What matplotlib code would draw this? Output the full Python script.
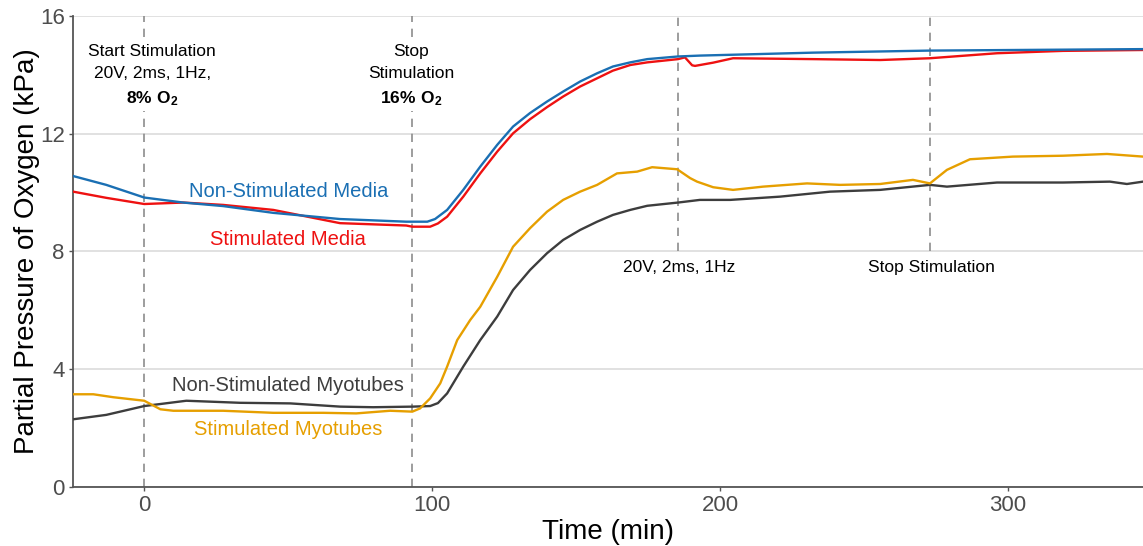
import numpy as np
import matplotlib
matplotlib.use("Agg")
import matplotlib.pyplot as plt

plt.rcParams['font.family'] = ['Liberation Sans', 'DejaVu Sans']
plt.rcParams['mathtext.fontset'] = 'custom'
plt.rcParams['mathtext.rm'] = 'Liberation Sans'
plt.rcParams['mathtext.bf'] = 'Liberation Sans:bold'

# Non-stimulated media
t_media_ns = [-24.7, -13.2, 0, 13.5, 27.4, 44.8, 68, 91, 98.3, 101, 105.2, 110.8, 116.7,
              122.6, 128.1, 134, 139.9, 145.5, 151.4, 157.3, 162.8, 168.8, 174.7, 185.4,
              193, 232.3, 272.9, 346.9]
p_media_ns = [10.56, 10.26, 9.83, 9.66, 9.54, 9.31, 9.10, 9.01, 9.01, 9.10, 9.41, 10.09, 10.88,
              11.62, 12.24, 12.70, 13.09, 13.43, 13.77, 14.05, 14.28, 14.42, 14.53, 14.62,
              14.65, 14.75, 14.82, 14.87]

# Stimulated media
t_media_s = [-24.7, -13.2, 0, 13.5, 27.4, 44.8, 68, 91, 93.1, 99.3, 102, 105.2, 110.8, 116.7,
             122.6, 128.1, 134, 139.9, 145.5, 151.4, 157.3, 162.8, 168.8, 174.7, 185.4, 187.8,
             190.3, 191.3, 197.6, 204.5, 232.3, 255.6, 272.9, 296.2, 319.1, 346.9]
p_media_s = [10.03, 9.82, 9.61, 9.66, 9.58, 9.41, 8.96, 8.88, 8.84, 8.84, 8.95, 9.18, 9.86, 10.65,
             11.39, 12.01, 12.49, 12.90, 13.26, 13.60, 13.88, 14.14, 14.33, 14.42, 14.53, 14.59,
             14.32, 14.30, 14.41, 14.56, 14.53, 14.50, 14.56, 14.73, 14.81, 14.84]

# Stimulated myotubes
t_myo_s = [-24.7, -17.7, -10.8, 0, 5.6, 10.1, 27.4, 44.8, 62.2, 73.6, 85.4, 93.1, 95.8, 99.3,
           102.8, 105.2, 108.7, 113.2, 116.7, 122.6, 128.1, 134, 139.9, 145.5, 151.4, 157.3,
           164.2, 171.2, 176.4, 185.1, 189.6, 192, 197.6, 204.5, 214.9, 230.2, 241.7, 255.6,
           267, 272.9, 278.8, 286.8, 301.7, 319.1, 334.4, 346.9]
p_myo_s = [3.15, 3.15, 3.05, 2.93, 2.64, 2.59, 2.59, 2.52, 2.52, 2.50, 2.59, 2.56, 2.67, 3.01,
           3.52, 4.09, 4.99, 5.67, 6.12, 7.14, 8.16, 8.79, 9.35, 9.75, 10.03, 10.26,
           10.65, 10.71, 10.86, 10.79, 10.49, 10.37, 10.18, 10.09, 10.20, 10.31, 10.26, 10.29,
           10.43, 10.31, 10.77, 11.13, 11.22, 11.25, 11.31, 11.22]

# Non-stimulated myotubes
t_myo_ns = [-24.7, -13.2, 0, 14.6, 33.3, 50.7, 68.1, 79.5, 93.1, 99.3, 102, 105.2, 110.8, 116.7,
            122.6, 128.1, 134, 139.9, 145.5, 151.4, 157.3, 162.8, 168.8, 174.7, 185.4, 193,
            203.5, 220.8, 238.2, 255.6, 272.9, 278.8, 296.2, 319.1, 335.4, 341.3, 346.9]
p_myo_ns = [2.30, 2.45, 2.75, 2.93, 2.86, 2.84, 2.73, 2.71, 2.73, 2.75, 2.85, 3.18, 4.09, 4.99,
            5.79, 6.69, 7.37, 7.94, 8.39, 8.73, 9.01, 9.24, 9.41, 9.55, 9.66, 9.75,
            9.75, 9.86, 10.03, 10.09, 10.26, 10.20, 10.34, 10.34, 10.37, 10.29, 10.37]

# event times (min)
events_full = [0, 93]
events_upper = [185.5, 273]

fig = plt.figure(figsize=(11.43, 5.46), dpi=100)
ax = fig.add_axes([0.064, 0.108, 0.936, 0.863])

ax.vlines(events_full, 0, 16, colors='#8c8c8c', linestyles=(0, (5, 4)), linewidth=1.2, zorder=1)
ax.vlines(events_upper, 8, 16, colors='#8c8c8c', linestyles=(0, (5, 4)), linewidth=1.2, zorder=1)

ax.plot(t_myo_ns, p_myo_ns, color='#3d3d3d', lw=1.7, zorder=3)
ax.plot(t_myo_s, p_myo_s, color='#e69f00', lw=1.7, zorder=3)
ax.plot(t_media_s, p_media_s, color='#ee1111', lw=1.7, zorder=3)
ax.plot(t_media_ns, p_media_ns, color='#1a6fb3', lw=1.7, zorder=4)

# series labels
ax.text(50, 10.02, 'Non-Stimulated Media', color='#1a6fb3', fontsize=14.5, ha='center', va='center')
ax.text(50, 8.39, 'Stimulated Media', color='#ee1111', fontsize=14.5, ha='center', va='center')
ax.text(50, 3.46, 'Non-Stimulated Myotubes', color='#3d3d3d', fontsize=14.5, ha='center', va='center')
ax.text(50, 1.97, 'Stimulated Myotubes', color='#e69f00', fontsize=14.5, ha='center', va='center')

# event annotations
box = dict(facecolor='white', edgecolor='none', pad=2)
ax.text(2.8, 13.95, 'Start Stimulation\n20V, 2ms, 1Hz,\n' + r'$\mathbf{8\%\ O_2}$',
        fontsize=12.5, ha='center', va='center', linespacing=1.6, bbox=box, zorder=2)
ax.text(92.7, 13.95, 'Stop\nStimulation\n' + r'$\mathbf{16\%\ O_2}$',
        fontsize=12.5, ha='center', va='center', linespacing=1.6, bbox=box, zorder=2)
ax.text(185.8, 7.47, '20V, 2ms, 1Hz', fontsize=12.5, ha='center', va='center')
ax.text(273.3, 7.47, 'Stop Stimulation', fontsize=12.5, ha='center', va='center')

ax.set_xlim(-24.7, 346.9)
ax.set_ylim(0, 16)
ax.set_xticks([0, 100, 200, 300])
ax.set_yticks([0, 4, 8, 12, 16])
ax.yaxis.grid(True, color='#d9d9d9', linewidth=1.1)
ax.set_axisbelow(True)
for s in ['top', 'right']:
    ax.spines[s].set_visible(False)
for s in ['left', 'bottom']:
    ax.spines[s].set_color('#555555')
    ax.spines[s].set_linewidth(1.3)
ax.tick_params(axis='both', colors='#555555', length=3, width=1, labelsize=16, pad=3)
for lab in ax.get_xticklabels() + ax.get_yticklabels():
    lab.set_color('#4d4d4d')

ax.set_xlabel('Time (min)', fontsize=20, labelpad=2)
ax.set_ylabel('Partial Pressure of Oxygen (kPa)', fontsize=20, labelpad=0)

fig.savefig('out.png', dpi=100)
